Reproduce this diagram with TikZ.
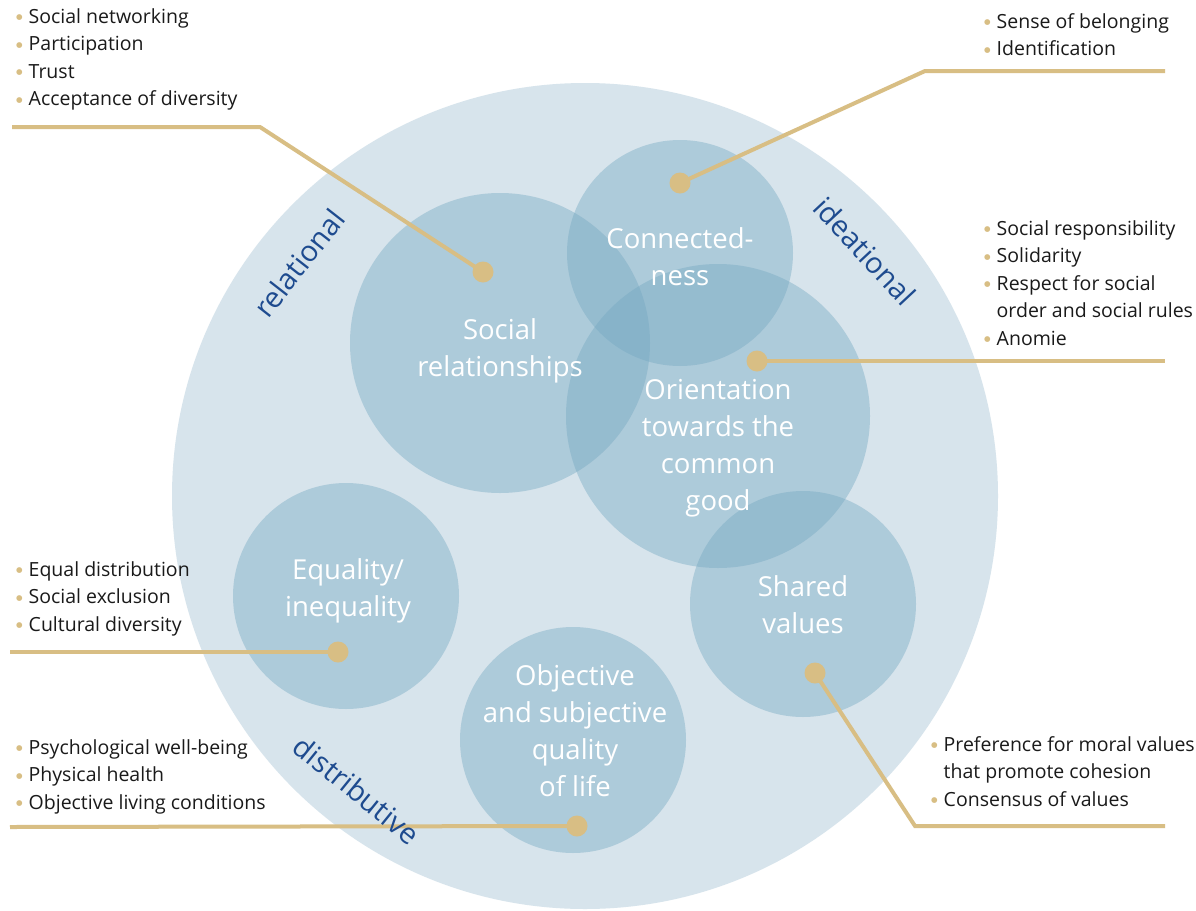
\documentclass[tikz,border=0pt]{standalone}
\usepackage{fontspec}
\setmainfont{Open Sans}
\newfontfamily\symfont{DejaVu Sans}
\definecolor{bgc}{RGB}{215,228,236}
\definecolor{smc}{RGB}{116,168,193}
\definecolor{gold}{RGB}{216,190,132}
\definecolor{axisblue}{RGB}{30,75,143}
\definecolor{txt}{RGB}{26,26,26}
\newcommand\bitem[1]{\makebox[12.5pt][l]{\textcolor{gold}{\raisebox{3.5pt}{\symfont\fontsize{7.5}{8}\selectfont ●}}}#1}
\newcommand\bcont[1]{\hspace*{12.5pt}#1}
\begin{document}
\begin{tikzpicture}[x=1pt,y=-1pt,
  bigcirc/.style={circle,fill=bgc,inner sep=0pt},
  smallcirc/.style={circle,fill=smc,fill opacity=0.415,inner sep=0pt},
  clabel/.style={text=white,align=center,font=\fontsize{27.5}{37}\selectfont,inner sep=0pt},
  axislabel/.style={text=axisblue,font=\fontsize{29}{34}\selectfont,inner sep=0pt},
  blist/.style={text=txt,align=left,font=\fontsize{19.5}{27.5}\selectfont,inner sep=0pt,anchor=north west},
  conn/.style={draw=gold,line width=4pt},
  golddot/.style={circle,fill=gold,inner sep=0pt,minimum size=21pt}]
\useasboundingbox (0,0) rectangle (1196,910);
\fill[white] (0,0) rectangle (1196,910);
% circles
\node[bigcirc,minimum size=826pt] (big) at (585,496) {};
\node[smallcirc,minimum size=300pt] (soc) at (500,343) {};
\node[smallcirc,minimum size=226pt] (con) at (680,253) {};
\node[smallcirc,minimum size=304pt] (ori) at (718,416) {};
\node[smallcirc,minimum size=226pt] (sha) at (803,604) {};
\node[smallcirc,minimum size=226pt] (equ) at (346,596) {};
\node[smallcirc,minimum size=226pt] (obj) at (573,740) {};
% connectors
\coordinate (k1) at (260,127); \coordinate (e1) at (12,127);
\coordinate (k2) at (925,71); \coordinate (e2) at (1165,71);
\coordinate (e3) at (1165,361);
\coordinate (e4) at (10,652);
\coordinate (e5) at (10,827);
\coordinate (k6) at (915,826); \coordinate (e6) at (1165,826);
\node[golddot] (d1) at (483,272) {};
\node[golddot] (d2) at (680,183) {};
\node[golddot] (d3) at (757,361) {};
\node[golddot] (d4) at (338,652) {};
\node[golddot] (d5) at (577,826) {};
\node[golddot] (d6) at (815,673) {};
\draw[conn] (d1.center) -- (k1) -- (e1);
\draw[conn] (d2.center) -- (k2) -- (e2);
\draw[conn] (d3.center) -- (e3);
\draw[conn] (d4.center) -- (e4);
\draw[conn] (d5.center) -- (e5);
\draw[conn] (d6.center) -- (k6) -- (e6);
% circle labels
\node[clabel] (socl) at (500,351) {Social\\relationships};
\node[clabel] (conl) at (680,257) {Connected-\\ness};
\node[clabel] (oril) at (718,448) {Orientation\\towards the\\common\\good};
\node[clabel] (shal) at (803,605) {Shared\\values};
\node[clabel] (equl) at (348,591) {Equality/\\inequality};
\node[clabel] (objl) at (575,731) {Objective\\and subjective\\quality\\of life};
% axis labels
\node[axislabel,rotate=52] (rel) at (299,263) {relational};
\node[axislabel,rotate=-47] (ide) at (865,251) {ideational};
\node[axislabel,rotate=-39] (dis) at (357,790) {distributive};
% bullet lists
\node[blist] (l1) at (16,8) {\bitem{Social networking}\\\bitem{Participation}\\\bitem{Trust}\\\bitem{Acceptance of diversity}};
\node[blist] (l2) at (984,13) {\bitem{Sense of belonging}\\\bitem{Identification}};
\node[blist] (l3) at (984,220) {\bitem{Social responsibility}\\\bitem{Solidarity}\\\bitem{Respect for social}\\\bcont{order and social rules}\\\bitem{Anomie}};
\node[blist] (l4) at (16,561) {\bitem{Equal distribution}\\\bitem{Social exclusion}\\\bitem{Cultural diversity}};
\node[blist] (l5) at (16,739) {\bitem{Psychological well-being}\\\bitem{Physical health}\\\bitem{Objective living conditions}};
\node[blist] (l6) at (931,736) {\bitem{Preference for moral values}\\\bcont{that promote cohesion}\\\bitem{Consensus of values}};
\end{tikzpicture}
\end{document}
